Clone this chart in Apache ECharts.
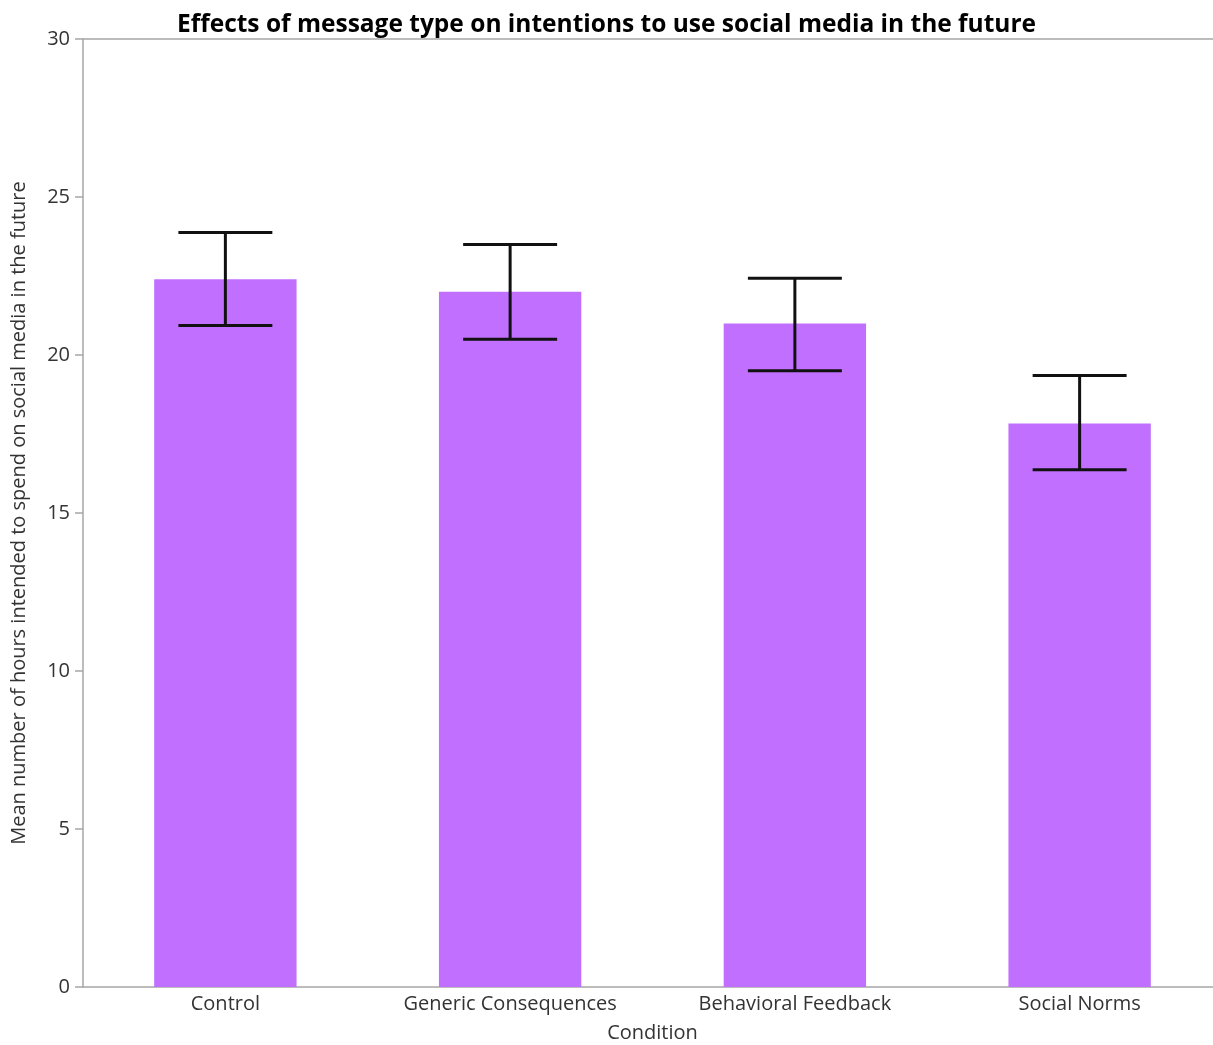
<!DOCTYPE html>
<html>
<head>
<meta charset="utf-8">
<script src="https://cdn.jsdelivr.net/npm/echarts@6/dist/echarts.min.js"></script>
<style>
  html, body { margin: 0; padding: 0; background: #ffffff; }
  #chart { width: 1213px; height: 1045px; }
</style>
</head>
<body>
<div id="chart"></div>
<script>
// Mean intended hours per condition, with error bar bounds
const conditions = ['Control', 'Generic Consequences', 'Behavioral Feedback', 'Social Norms'];
const means = [22.4, 22.0, 21.0, 17.83];
const lowerBounds = [20.93, 20.5, 19.5, 16.37];
const upperBounds = [23.88, 23.5, 22.43, 19.35];
const yTicks = [0, 5, 10, 15, 20, 25, 30];

const fontFamily = '"Open Sans", "Noto Sans", sans-serif';
const axisGray = '#a6a6a6';
const textColor = '#333333';

const errorData = conditions.map((c, i) => [i, lowerBounds[i], upperBounds[i]]);

const chart = echarts.init(document.getElementById('chart'), null, { renderer: 'canvas' });

chart.setOption({
  animation: false,
  backgroundColor: '#ffffff',
  title: {
    text: 'Effects of message type on intentions to use social media in the future',
    left: 'center',
    top: 8,
    textStyle: { fontFamily, fontWeight: 'bold', fontSize: 24.5, color: '#000000' }
  },
  grid: {
    left: 83, right: -9, top: 39, bottom: 58,
    containLabel: false,
    outerBoundsMode: 'none'
  },
  xAxis: [
    {
      type: 'category',
      data: conditions,
      name: 'Condition',
      nameLocation: 'middle',
      nameGap: 36,
      nameTextStyle: { fontFamily, fontSize: 20, color: textColor },
      axisLine: { lineStyle: { color: axisGray, width: 1.5 } },
      axisTick: { show: false },
      axisLabel: { fontFamily, fontSize: 20, color: textColor, margin: 7 }
    },
    {
      type: 'category',
      data: conditions,
      position: 'top',
      axisLine: { lineStyle: { color: axisGray, width: 1.5 } },
      axisTick: { show: false },
      axisLabel: { show: false }
    }
  ],
  yAxis: {
    type: 'value',
    min: yTicks[0],
    max: yTicks[yTicks.length - 1],
    interval: 5,
    name: 'Mean number of hours intended to spend on social media in the future',
    nameLocation: 'middle',
    nameGap: 54,
    nameTextStyle: { fontFamily, fontSize: 20, color: textColor },
    axisLine: { show: true, lineStyle: { color: axisGray, width: 1.5 } },
    axisTick: { show: true, length: 8, lineStyle: { color: axisGray, width: 1.5 } },
    axisLabel: { fontFamily, fontSize: 20, color: textColor, margin: 13 },
    splitLine: { show: false }
  },
  series: [
    {
      type: 'bar',
      xAxisIndex: 0,
      data: means,
      barWidth: '50%',
      itemStyle: { color: '#c06fff' }
    },
    {
      type: 'custom',
      xAxisIndex: 0,
      data: errorData,
      z: 10,
      renderItem: function (params, api) {
        const idx = api.value(0);
        const lo = api.coord([idx, api.value(1)]);
        const hi = api.coord([idx, api.value(2)]);
        const half = api.size([1, 0])[0] * 0.165;
        const style = { stroke: '#111111', lineWidth: 3, lineCap: 'butt' };
        return {
          type: 'group',
          children: [
            { type: 'line', shape: { x1: hi[0], y1: hi[1], x2: lo[0], y2: lo[1] }, style },
            { type: 'line', shape: { x1: hi[0] - half, y1: hi[1], x2: hi[0] + half, y2: hi[1] }, style },
            { type: 'line', shape: { x1: lo[0] - half, y1: lo[1], x2: lo[0] + half, y2: lo[1] }, style }
          ]
        };
      }
    }
  ]
});
</script>
</body>
</html>
